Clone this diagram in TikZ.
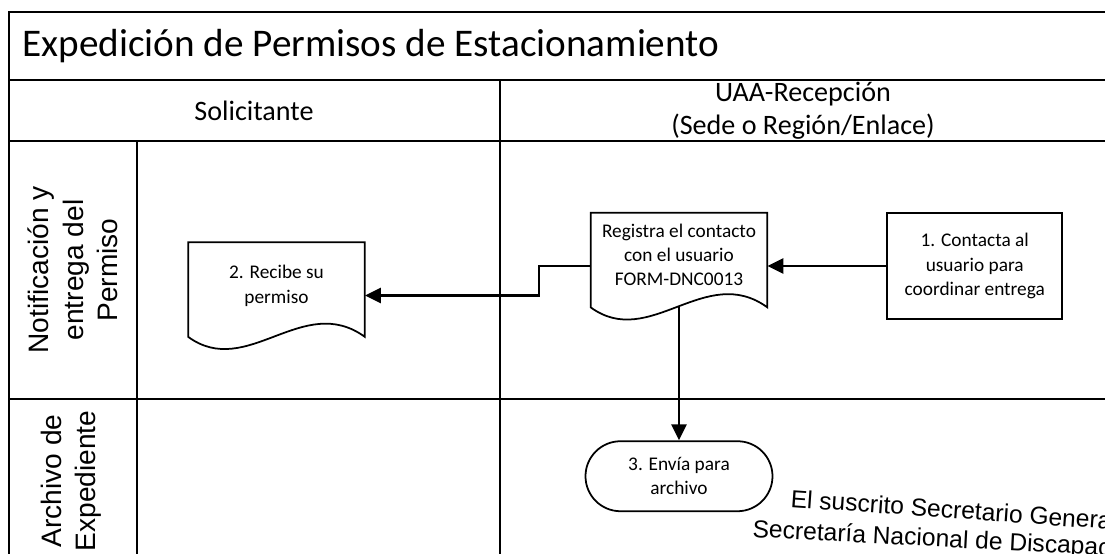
\documentclass[tikz,border=0pt]{standalone}
\usepackage{fontspec}
\setmainfont{Carlito}
\newfontfamily\lanefont{Liberation Sans}
\usetikzlibrary{arrows.meta, positioning, shapes.misc}

% outline of a document symbol drawn round a named node
\newcommand\docoutline[1]{%
  \draw[line width=1pt] (#1.north west) -- (#1.north east) -- ([yshift=0.24cm]#1.south east)
    .. controls +(-1.24,0.9) and +(1.18,-0.86) .. ([yshift=0.24cm]#1.south west) -- cycle;}

\begin{document}
\begin{tikzpicture}[
  frame/.style={line width=1.2pt},
  lane/.style={font=\lanefont\fontsize{16}{19.5}\selectfont, rotate=90, align=center},
  head/.style={font=\fontsize{16}{19}\selectfont, align=center},
  doc/.style={minimum width=3.52cm, minimum height=2.12cm, inner sep=0pt, align=center, font=\fontsize{11}{13.7}\selectfont, text depth=0.45cm},
  proc/.style={draw, line width=1pt, minimum width=3.5cm, minimum height=2.12cm, inner sep=0pt, align=center, font=\fontsize{11}{13.7}\selectfont},
  term/.style={draw, rounded rectangle, line width=1pt, minimum width=3.74cm, minimum height=1.4cm, inner sep=0pt, align=center, font=\fontsize{11}{13.7}\selectfont},
  arr/.style={-{Triangle[length=3.2mm, width=3mm]}, line width=1.6pt},
  stamp/.style={font=\lanefont\fontsize{14}{16}\selectfont, anchor=base west, inner sep=0pt}
]
\useasboundingbox (0,0) rectangle (22.1,-11.08);
\clip (0,0) rectangle (22.1,-11.08);

% pool and lanes
\draw[frame] (0.18,-11.2) -- (0.18,-0.24) -- (22.2,-0.24);
\draw[frame] (0.18,-1.6) -- (22.2,-1.6);
\draw[frame] (0.18,-2.82) -- (22.2,-2.82);
\draw[frame] (0.18,-7.98) -- (22.2,-7.98);
\draw[frame] (10,-1.6) -- (10,-11.2);
\draw[frame] (2.74,-2.82) -- (2.74,-11.2);

\node[anchor=west, inner sep=0pt, font=\fontsize{22.3}{26}\selectfont] (title) at (0.44,-0.92) {Expedición de Permisos de Estacionamiento};
\node[head] (solic) at (5.08,-2.21) {Solicitante};
\node[head] (uaa) at (16.06,-2.21) {UAA-Recepción\\(Sede o Región/Enlace)};
\node[lane] (notif) at (1.46,-5.4) {Notificación y\\entrega del\\Permiso};
\node[lane] (archivo) at (1.42,-9.62) {Archivo de\\Expediente};

% steps
\node[doc] (registra) at (13.58,-5.32) {Registra el contacto\\con el usuario\\FORM-DNC0013};
\docoutline{registra}
\node[proc, right=2.38cm of registra] (contacta) {1. Contacta al\\usuario para\\coordinar entrega};
\node[doc] (recibe) at (5.53,-5.91) {2. Recibe su\\permiso};
\docoutline{recibe}
\node[term, below=2.42cm of registra] (envia) {3. Envía para\\archivo};
\coordinate (jog) at (10.78,0);

\draw[arr] (contacta.west) -- (registra.east);
\draw[arr] (registra.west) -- (registra.west -| jog) |- (recibe.east);
\draw[arr] ([yshift=0.26cm]registra.south) -- (envia.north);

% stamp over the page
\node[stamp, rotate=-4] (stampA) at (15.8,-10.14) {El suscrito Secretario General};
\node[stamp, rotate=-3] (stampB) at (15.04,-10.74) {Secretaría Nacional de Discapacidad};
\end{tikzpicture}
\end{document}
